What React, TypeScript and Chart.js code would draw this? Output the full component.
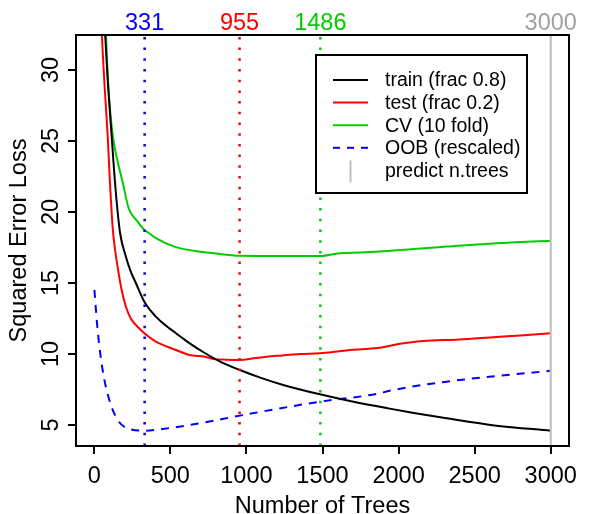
import React, { useEffect, useRef } from 'react';
import { Chart, registerables } from 'chart.js';

Chart.register(...registerables);

const FONT = "'Liberation Sans', Arial, Helvetica, sans-serif";
const FS = 23.5;

// axis setup
const xMin = -120;
const xMax = 3120;
const yMin = 3.52;
const yMax = 32.46;
const xTicks = [0, 500, 1000, 1500, 2000, 2500, 3000];
const yTicks = [5, 10, 15, 20, 25, 30];

// best iteration markers (top labels)
const bestIters = [331, 955, 1486, 3000];
const bestColors = ['#0000ff', '#ff0000', '#00cd00', '#a0a0a0'];

// train (frac 0.8)
const trainX = [50, 72, 90, 114, 140, 170, 208, 240, 274, 329, 405, 470, 537, 620, 729, 830, 957, 1100, 1242, 1483, 1680, 1932, 2100, 2315, 2643, 3000];
const trainY = [37, 32.4, 29.0, 25.4, 21.6, 18.5, 16.85, 15.8, 14.98, 13.68, 12.63, 12.0, 11.46, 10.8, 10.05, 9.45, 8.87, 8.3, 7.82, 7.16, 6.69, 6.17, 5.85, 5.47, 4.95, 4.6];

// test (frac 0.2)
const testX = [40, 50.6, 70, 88, 102, 121, 136, 154, 180, 208, 240, 274, 329, 405, 470, 537, 624, 729, 782, 870, 957, 1050, 1132, 1240, 1351, 1483, 1580, 1680, 1780, 1876, 2000, 2161, 2400, 2643, 2800, 3000];
const testY = [36, 32.46, 28.5, 25.42, 22.3, 18.9, 17.4, 16.1, 14.5, 13.33, 12.5, 12.04, 11.46, 10.87, 10.55, 10.28, 9.93, 9.81, 9.65, 9.6, 9.58, 9.7, 9.81, 9.9, 10.0, 10.05, 10.15, 10.28, 10.35, 10.44, 10.7, 10.92, 11.02, 11.2, 11.3, 11.46];

// CV (10 fold)
const cvX = [60, 77, 92, 121, 154, 186, 226, 285, 329, 361, 405, 526, 694, 760, 957, 1242, 1483, 1614, 1750, 1876, 2100, 2315, 2643, 3000];
const cvY = [37, 32.46, 28.94, 25.42, 23.54, 22.13, 20.26, 19.32, 18.73, 18.5, 18.15, 17.56, 17.2, 17.13, 16.92, 16.9, 16.9, 17.1, 17.15, 17.22, 17.4, 17.56, 17.8, 17.98];

// OOB (rescaled)
const oobX = [1, 22, 55, 99, 154, 230, 329, 449, 694, 957, 1483, 1876, 1932, 2315, 3000];
const oobY = [14.51, 11.69, 8.87, 6.76, 5.35, 4.72, 4.6, 4.72, 5.12, 5.66, 6.64, 7.23, 7.39, 8.05, 8.82];

// legend
const legendLabels = ['train (frac 0.8)', 'test (frac 0.2)', 'CV (10 fold)', 'OOB (rescaled)', 'predict n.trees'];
const legendColors = ['#000000', '#ff0000', '#00cd00', '#0000ff', '#bebebe'];

const toPts = (xs: number[], ys: number[]) => xs.map((x, i) => ({ x, y: ys[i] }));

const boxPlugin = {
  id: 'rBox',
  afterDatasetsDraw(chart: any) {
    const { ctx, chartArea: a } = chart;
    ctx.save();
    // legend
    const lw = 211, lh = 138;
    const lx = a.right - 42 - lw;
    const ly = a.top + 20;
    ctx.fillStyle = '#ffffff';
    ctx.fillRect(lx, ly, lw, lh);
    ctx.strokeStyle = '#000';
    ctx.lineWidth = 2;
    ctx.strokeRect(lx, ly, lw, lh);
    ctx.font = `19.5px ${FONT}`;
    ctx.textBaseline = 'middle';
    ctx.textAlign = 'left';
    legendLabels.forEach((lab, i) => {
      const y = ly + 25 + i * 22.6;
      ctx.strokeStyle = legendColors[i];
      ctx.lineWidth = 2;
      ctx.beginPath();
      if (i === 4) {
        ctx.moveTo(lx + 34.5, y - 10);
        ctx.lineTo(lx + 34.5, y + 12);
      } else {
        ctx.setLineDash(i === 3 ? [7, 7] : []);
        ctx.moveTo(lx + 17, y);
        ctx.lineTo(lx + 52, y);
      }
      ctx.stroke();
      ctx.setLineDash([]);
      ctx.fillStyle = '#000';
      ctx.fillText(lab, lx + 69, y + 1);
    });
    // plot box
    ctx.strokeStyle = '#000';
    ctx.lineWidth = 2;
    ctx.strokeRect(a.left, a.top, a.right - a.left, a.bottom - a.top);
    ctx.restore();
  },
};

export default function App() {
  const ref = useRef<HTMLCanvasElement | null>(null);
  useEffect(() => {
    document.body.style.margin = '0';
    const canvas = ref.current!;
    const curve = (label: string, xs: number[], ys: number[], color: string, dash: number[] = []) => ({
      label,
      data: toPts(xs, ys),
      borderColor: color,
      borderWidth: 2,
      borderDash: dash,
      pointRadius: 0,
      fill: false,
      cubicInterpolationMode: 'monotone' as const,
      order: 2,
    });
    const vlines = bestIters.map((v, i) => ({
      label: 'best' + v,
      data: [{ x: v, y: yMin }, { x: v, y: yMax }],
      borderColor: i === 3 ? '#bebebe' : bestColors[i],
      borderWidth: i === 3 ? 2 : 2.5,
      borderDash: i === 3 ? [] : [2.5, 8.2],
      pointRadius: 0,
      fill: false,
      order: 1,
    }));
    const fmt = (v: any) => String(v);
    const chart = new Chart(canvas, {
      type: 'line',
      data: {
        datasets: [
          curve('train', trainX, trainY, '#000000'),
          curve('test', testX, testY, '#ff0000'),
          curve('cv', cvX, cvY, '#00cd00'),
          curve('oob', oobX, oobY, '#0000ff', [8, 7]),
          ...vlines,
        ],
      },
      options: {
        animation: false,
        responsive: false,
        devicePixelRatio: 1,
        layout: { padding: { left: 0, right: 25, top: 0, bottom: 0 } },
        plugins: { legend: { display: false }, tooltip: { enabled: false } },
        scales: {
          x: {
            type: 'linear',
            position: 'bottom',
            min: xMin,
            max: xMax,
            afterBuildTicks: (s: any) => { s.ticks = xTicks.map((v) => ({ value: v })); },
            afterFit: (s: any) => { s.height = 68; },
            grid: { display: true, drawOnChartArea: false, drawTicks: true, tickLength: 8, color: '#000', lineWidth: 2 },
            border: { display: false },
            ticks: { color: '#000', font: { family: FONT, size: FS }, padding: 8, maxRotation: 0, autoSkip: false, callback: fmt },
            title: { display: true, text: 'Number of Trees', color: '#000', font: { family: FONT, size: FS, lineHeight: 1 }, padding: { top: 0, bottom: -4 } },
          },
          x2: {
            type: 'linear',
            position: 'top',
            min: xMin,
            max: xMax,
            afterBuildTicks: (s: any) => { s.ticks = bestIters.map((v) => ({ value: v })); },
            afterFit: (s: any) => { s.height = 35; },
            grid: { display: false, drawTicks: false, tickLength: 0 },
            border: { display: false },
            ticks: {
              color: (c: any) => bestColors[c.index] || '#000',
              font: { family: FONT, size: FS },
              padding: -3,
              maxRotation: 0,
              autoSkip: false,
              callback: fmt,
            },
          },
          y: {
            type: 'linear',
            min: yMin,
            max: yMax,
            afterBuildTicks: (s: any) => { s.ticks = yTicks.map((v) => ({ value: v })); },
            afterFit: (s: any) => { s.width = 76; },
            grid: { display: true, drawOnChartArea: false, drawTicks: true, tickLength: 8, color: '#000', lineWidth: 2 },
            border: { display: false },
            ticks: { color: '#000', font: { family: FONT, size: FS }, padding: 3, minRotation: 90, maxRotation: 90, crossAlign: 'center', autoSkip: false, callback: fmt },
            title: { display: true, text: 'Squared Error Loss', color: '#000', font: { family: FONT, size: FS, lineHeight: 1 }, padding: { top: 8, bottom: 0 } },
          },
        },
      },
      plugins: [boxPlugin],
    } as any);
    return () => chart.destroy();
  }, []);
  return <canvas ref={ref} width={594} height={514} style={{ display: 'block' }} />;
}
